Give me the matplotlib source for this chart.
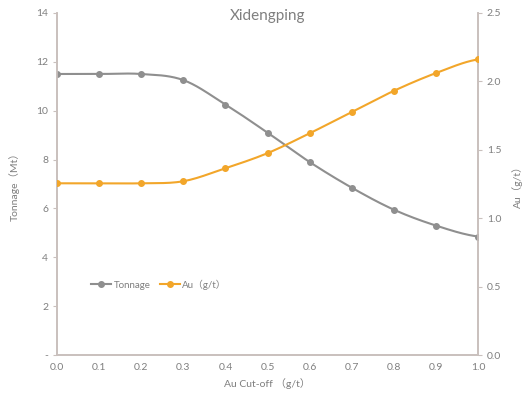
import numpy as np
import matplotlib
matplotlib.use("Agg")
import matplotlib.pyplot as plt

plt.rcParams['font.family'] = ['Lato', 'Noto Sans CJK SC', 'DejaVu Sans']

cutoff = [0.0, 0.1, 0.2, 0.3, 0.4, 0.5, 0.6, 0.7, 0.8, 0.9, 1.0]
tonnage = [11.5, 11.5, 11.5, 11.25, 10.25, 9.1, 7.9, 6.85, 5.95, 5.3, 4.85]
au_grade = [1.255, 1.255, 1.255, 1.27, 1.365, 1.475, 1.62, 1.775, 1.93, 2.06, 2.16]

left_ticks = [0, 2, 4, 6, 8, 10, 12, 14]
left_labels = ['-', '2', '4', '6', '8', '10', '12', '14']
right_ticks = [0.0, 0.5, 1.0, 1.5, 2.0, 2.5]
x_ticks = cutoff

GREY = '#8f8f8f'
ORANGE = '#f2a62a'
TXT = '#7f7f7f'
AXC = '#c9c0bd'


def smooth(x, y, n=20):
    # catmull-rom style smoothing, like excel "smoothed line"
    x = np.asarray(x, float)
    y = np.asarray(y, float)
    px = np.concatenate([[2 * x[0] - x[1]], x, [2 * x[-1] - x[-2]]])
    py = np.concatenate([[y[0]], y, [y[-1]]])
    xs, ys = [], []
    t = np.linspace(0, 1, n)
    for i in range(1, len(px) - 2):
        for p, out in ((px, xs), (py, ys)):
            p0, p1, p2, p3 = p[i - 1], p[i], p[i + 1], p[i + 2]
            out.extend(0.5 * (2 * p1 + (-p0 + p2) * t
                              + (2 * p0 - 5 * p1 + 4 * p2 - p3) * t ** 2
                              + (-p0 + 3 * p1 - 3 * p2 + p3) * t ** 3))
    return np.array(xs), np.array(ys)


fig = plt.figure(figsize=(5.24, 4.03), dpi=100)
ax = fig.add_axes([0.109, 0.119, 0.803, 0.849])
ax2 = ax.twinx()

sx, sy = smooth(cutoff, tonnage)
ax.plot(sx, sy, color=GREY, lw=1.5, zorder=3)
ax.plot(cutoff, tonnage, 'o', color=GREY, ms=4, zorder=4)
l1, = ax.plot([], [], '-o', color=GREY, lw=1.5, ms=4, label='Tonnage')

sx, sy = smooth(cutoff, au_grade)
ax2.plot(sx, sy, color=ORANGE, lw=1.5, zorder=3)
ax2.plot(cutoff, au_grade, 'o', color=ORANGE, ms=4, zorder=4)
l2, = ax2.plot([], [], '-o', color=ORANGE, lw=1.5, ms=4, label='Au（g/t）')

ax.set_xlim(0, 1.0)
ax.set_ylim(0, 14)
ax2.set_ylim(0, 2.5)
ax.set_xticks(x_ticks)
ax.set_xticklabels(['%.1f' % v for v in x_ticks])
ax.set_yticks(left_ticks)
ax.set_yticklabels(left_labels)
ax2.set_yticks(right_ticks)
ax2.set_yticklabels(['%.1f' % v for v in right_ticks])

for a in (ax, ax2):
    a.spines['top'].set_visible(False)
    for s in ('left', 'right', 'bottom'):
        a.spines[s].set_color(AXC)
        a.spines[s].set_linewidth(1.2)
    a.tick_params(colors=TXT, labelsize=7.5, length=3, width=0.8)
    a.tick_params(axis='both', color=AXC)
ax.tick_params(axis='x', length=0, pad=6)

ax.set_xlabel('Au Cut-off （g/t）', color=TXT, fontsize=7.5, labelpad=4)
ax.set_ylabel('Tonnage（Mt）', color=TXT, fontsize=7.5, labelpad=12)
ax2.set_ylabel('Au（g/t）', color=TXT, fontsize=7.5, labelpad=8)
ax.set_title('Xidengping', color=TXT, fontsize=11, y=0.955)

ax.legend(handles=[l1, l2], loc='lower left', bbox_to_anchor=(0.06, 0.165),
          ncol=2, frameon=False, fontsize=7, labelcolor=TXT,
          handlelength=2.0, columnspacing=1.0, handletextpad=0.3)

fig.savefig('out.png', dpi=100)
